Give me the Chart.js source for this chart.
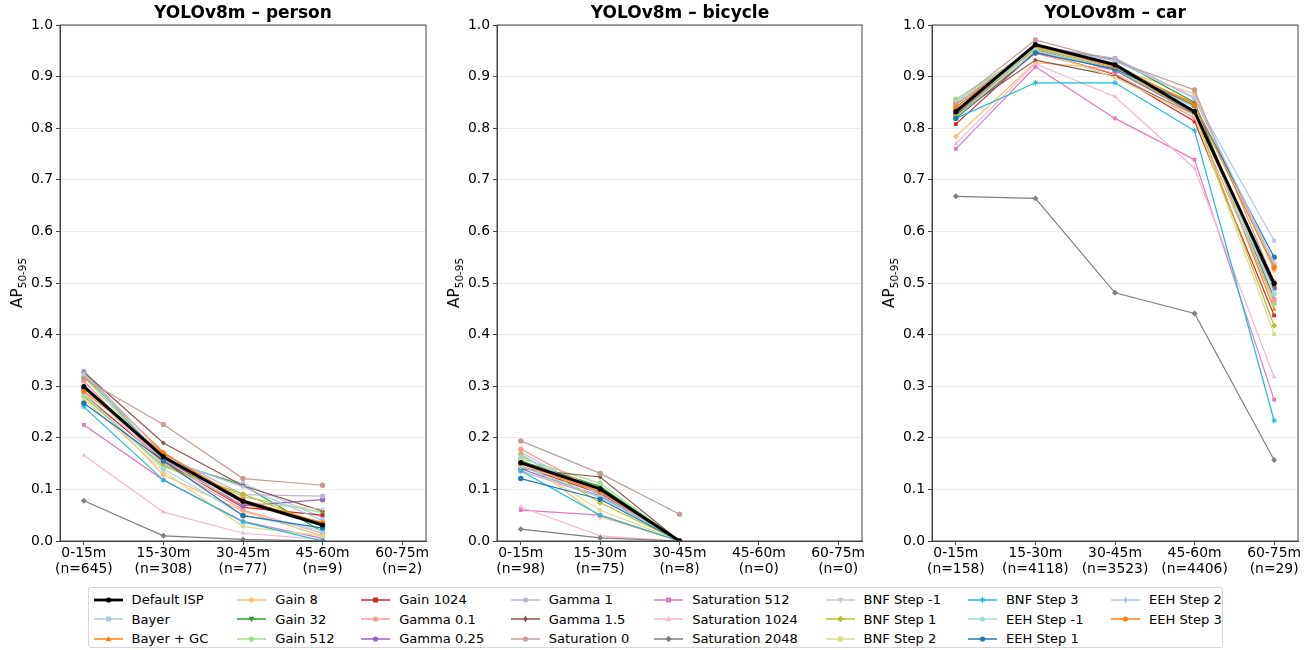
<!DOCTYPE html>
<html>
<head>
<meta charset="utf-8">
<script src="https://cdn.jsdelivr.net/npm/chart.js@4.4.1/dist/chart.umd.min.js"></script>
<style>
  body { margin: 0; background: #fff; font-family: "DejaVu Sans", sans-serif; color: #000; }
  #wrap { position: relative; width: 1310px; height: 650px; overflow: hidden; }
  .panel { position: absolute; top: 0; width: 436px; height: 590px; }
  .ptitle { position: absolute; top: 2px; width: 366px; text-align: center; font-weight: bold; font-size: 17px; white-space: nowrap; }
  .ylab { position: absolute; top: 283px; font-size: 15.3px; white-space: nowrap; transform: translate(-50%, -50%) rotate(-90deg); }
  .ylab sub { font-size: 10.5px; }
  #legend { position: absolute; left: 88px; top: 587px; width: 1135px; height: 61px; border: 1px solid #d6d6d6; border-radius: 3px; box-sizing: border-box; }
  .lcol { position: absolute; top: 2px; }
  .litem { height: 19.5px; display: flex; align-items: center; font-size: 13.1px; white-space: nowrap; }
  .litem svg { margin-right: 9px; }
</style>
</head>
<body>
<div id="wrap">
  <div id="legend"></div>
</div>
<script>
// distance bins + sample counts per class
const distanceBins = ["0-15m", "15-30m", "30-45m", "45-60m", "60-75m"];
const personCounts = [645, 308, 77, 9, 2];
const bicycleCounts = [98, 75, 8, 0, 0];
const carCounts = [158, 4118, 3523, 4406, 29];

const configNames = [
    "Default ISP", "Bayer", "Bayer + GC", "Gain 8", "Gain 32", "Gain 512", "Gain 1024",
    "Gamma 0.1", "Gamma 0.25", "Gamma 1", "Gamma 1.5", "Saturation 0", "Saturation 512",
    "Saturation 1024", "Saturation 2048", "BNF Step -1", "BNF Step 1", "BNF Step 2",
    "BNF Step 3", "EEH Step -1", "EEH Step 1", "EEH Step 2", "EEH Step 3"
];

// AP50-95 per config (rows follow configNames), null = no data
const personAP = [
    [0.299, 0.163, 0.077, 0.031, null],
    [0.330, 0.152, 0.112, 0.045, null],
    [0.320, 0.172, 0.072, 0.036, null],
    [0.290, 0.128, 0.058, 0.010, null],
    [0.325, 0.158, 0.108, 0.018, null],
    [0.318, 0.156, 0.086, 0.055, null],
    [0.284, 0.155, 0.065, 0.050, null],
    [0.310, 0.150, 0.060, 0.015, null],
    [0.296, 0.160, 0.068, 0.080, null],
    [0.328, 0.168, 0.090, 0.087, null],
    [0.327, 0.190, 0.107, 0.058, null],
    [0.315, 0.226, 0.121, 0.108, null],
    [0.225, 0.118, 0.038, 0.005, null],
    [0.166, 0.056, 0.015, 0.003, null],
    [0.078, 0.010, 0.003, 0.000, null],
    [0.300, 0.148, 0.075, 0.062, null],
    [0.280, 0.145, 0.091, 0.030, null],
    [0.275, 0.135, 0.028, 0.010, null],
    [0.260, 0.118, 0.037, 0.000, null],
    [0.285, 0.140, 0.050, 0.020, null],
    [0.267, 0.155, 0.049, 0.025, null],
    [0.325, 0.160, 0.105, 0.040, null],
    [0.290, 0.170, 0.080, 0.035, null]
];

const bicycleAP = [
    [0.152, 0.101, 0.000, null, null],
    [0.172, 0.088, 0.000, null, null],
    [0.150, 0.097, 0.000, null, null],
    [0.160, 0.047, 0.000, null, null],
    [0.155, 0.106, 0.000, null, null],
    [0.160, 0.112, 0.000, null, null],
    [0.145, 0.092, 0.000, null, null],
    [0.178, 0.095, 0.000, null, null],
    [0.140, 0.087, 0.000, null, null],
    [0.136, 0.085, 0.000, null, null],
    [0.140, 0.124, 0.000, null, null],
    [0.194, 0.131, 0.052, null, null],
    [0.060, 0.050, 0.000, null, null],
    [0.066, 0.010, 0.000, null, null],
    [0.023, 0.006, 0.000, null, null],
    [0.150, 0.095, 0.000, null, null],
    [0.168, 0.074, 0.000, null, null],
    [0.155, 0.060, 0.000, null, null],
    [0.136, 0.050, 0.000, null, null],
    [0.145, 0.085, 0.000, null, null],
    [0.121, 0.081, 0.000, null, null],
    [0.165, 0.090, 0.000, null, null],
    [0.150, 0.095, 0.000, null, null]
];

const carAP = [
    [0.832, 0.962, 0.923, 0.832, 0.499],
    [0.830, 0.955, 0.936, 0.858, 0.582],
    [0.840, 0.958, 0.918, 0.848, 0.449],
    [0.784, 0.927, 0.915, 0.867, 0.524],
    [0.846, 0.958, 0.934, 0.850, 0.470],
    [0.856, 0.955, 0.925, 0.842, 0.460],
    [0.808, 0.949, 0.904, 0.813, 0.437],
    [0.826, 0.945, 0.906, 0.820, 0.467],
    [0.828, 0.952, 0.912, 0.828, 0.490],
    [0.845, 0.960, 0.935, 0.858, 0.535],
    [0.826, 0.932, 0.901, 0.826, 0.494],
    [0.850, 0.971, 0.930, 0.874, 0.502],
    [0.760, 0.919, 0.819, 0.739, 0.274],
    [0.770, 0.925, 0.861, 0.722, 0.318],
    [0.668, 0.664, 0.481, 0.441, 0.157],
    [0.852, 0.955, 0.920, 0.835, 0.480],
    [0.823, 0.955, 0.915, 0.830, 0.417],
    [0.820, 0.952, 0.898, 0.825, 0.401],
    [0.819, 0.888, 0.888, 0.795, 0.233],
    [0.835, 0.950, 0.915, 0.840, 0.479],
    [0.819, 0.946, 0.915, 0.844, 0.550],
    [0.835, 0.960, 0.930, 0.860, 0.540],
    [0.840, 0.960, 0.920, 0.845, 0.530]
];

const yTicks = [0, 0.1, 0.2, 0.3, 0.4, 0.5, 0.6, 0.7, 0.8, 0.9, 1.0];

// styles (tab20)
const configColors = [
    "#000000", "#aec7e8", "#ff7f0e", "#ffbb78", "#2ca02c", "#98df8a", "#d62728",
    "#ff9896", "#9467bd", "#c5b0d5", "#8c564b", "#c49c94", "#e377c2", "#f7b6d2",
    "#7f7f7f", "#c7c7c7", "#bcbd22", "#dbdb8d", "#17becf", "#9edae5", "#1f77b4",
    "#aec7e8", "#ff7f0e"
];
const configMarkers = [
    "circle", "rect", "triangle", "rectRot", "triDown", "circle", "rect",
    "circle", "circle", "circle", "thinDiamond", "circle", "rect", "triangle",
    "rectRot", "triDown", "rectRot", "rect", "star", "circle", "circle",
    "thinDiamond", "circle"
];

const panelLefts = [0, 436, 872];
const axisWidths = [60, 61, 60];

// kleines Plugin für den Rahmen oben/rechts
const framePlugin = {
    id: "frame",
    afterDraw(chart) {
        const { ctx, chartArea: a } = chart;
        ctx.save();
        ctx.strokeStyle = "#444";
        ctx.lineWidth = 1;
        ctx.strokeRect(a.left, a.top, a.right - a.left, a.bottom - a.top);
        ctx.restore();
    }
};

function chartMarker(m) {
    if (m === "triDown") return { style: "triangle", rot: 180, scale: 1 };
    if (m === "thinDiamond") return { style: "rectRot", rot: 0, scale: 0.9 };
    if (m === "rectRot") return { style: "rectRot", rot: 0, scale: 1.1 };
    return { style: m, rot: 0, scale: 1 };
}

function buildPanel(idx, title, counts, apRows) {
    const wrap = document.getElementById("wrap");
    const panel = document.createElement("div");
    panel.className = "panel";
    panel.style.left = panelLefts[idx] + "px";
    const canvas = document.createElement("canvas");
    canvas.width = 436;
    canvas.height = 590;
    panel.appendChild(canvas);

    const t = document.createElement("div");
    t.className = "ptitle";
    t.style.left = axisWidths[idx] + "px";
    t.textContent = title;
    panel.appendChild(t);

    const yl = document.createElement("div");
    yl.className = "ylab";
    yl.style.left = (axisWidths[idx] - 42) + "px";
    yl.innerHTML = "AP<sub>50-95</sub>";
    panel.appendChild(yl);
    wrap.appendChild(panel);

    const n = configNames.length;
    const datasets = configNames.map((name, i) => {
        const mk = chartMarker(configMarkers[i]);
        const pts = [];
        apRows[i].forEach((v, j) => { if (v !== null) pts.push({ x: j, y: v }); });
        return {
            label: name,
            data: pts,
            borderColor: configColors[i],
            backgroundColor: configColors[i],
            borderWidth: i === 0 ? 3 : 1.2,
            pointRadius: (i === 0 ? 2.6 : 2.7) * mk.scale,
            pointStyle: mk.style,
            pointRotation: mk.rot,
            pointBorderWidth: mk.style === "star" ? 1 : 0,
            pointBorderColor: configColors[i],
            order: i === 0 ? 0 : n - i,
            tension: 0
        };
    });

    new Chart(canvas, {
        type: "line",
        data: { datasets },
        options: {
            responsive: false,
            animation: false,
            layout: { padding: { top: 25, right: 10, left: 0, bottom: 0 } },
            plugins: { legend: { display: false }, tooltip: { enabled: false } },
            scales: {
                x: {
                    type: "linear",
                    min: -0.3,
                    max: 4.3,
                    afterBuildTicks: s => { s.ticks = distanceBins.map((_, j) => ({ value: j })); },
                    afterFit: s => { s.height = 49; },
                    grid: { drawOnChartArea: false, drawTicks: true, tickLength: 4, tickColor: "#444" },
                    border: { display: true, color: "#444" },
                    ticks: {
                        maxRotation: 0,
                        autoSkip: false,
                        padding: 1,
                        color: "#000",
                        font: { family: "DejaVu Sans", size: 13.9, lineHeight: 1.12 },
                        callback: v => [distanceBins[v], "(n=" + counts[v] + ")"]
                    }
                },
                y: {
                    min: 0,
                    max: 1,
                    afterBuildTicks: s => { s.ticks = yTicks.map(v => ({ value: v })); },
                    afterFit: s => { s.width = axisWidths[idx]; },
                    grid: { color: "#ebebeb", lineWidth: 1, tickLength: 4, tickColor: "#444" },
                    border: { display: true, color: "#444" },
                    ticks: {
                        padding: 3,
                        color: "#000",
                        font: { family: "DejaVu Sans", size: 13.9 },
                        callback: v => v.toFixed(1)
                    }
                }
            }
        },
        plugins: [framePlugin]
    });
}

buildPanel(0, "YOLOv8m \u2013 person", personCounts, personAP);
buildPanel(1, "YOLOv8m \u2013 bicycle", bicycleCounts, bicycleAP);
buildPanel(2, "YOLOv8m \u2013 car", carCounts, carAP);

// legend (matplotlib-artig, 8 Spalten, spaltenweise gefüllt)
function markerSvg(m, color) {
    const cx = 14.5, cy = 7;
    if (m === "circle") return `<circle cx="${cx}" cy="${cy}" r="2.6" fill="${color}"/>`;
    if (m === "rect") return `<rect x="${cx - 2.5}" y="${cy - 2.5}" width="5" height="5" fill="${color}"/>`;
    if (m === "triangle") return `<polygon points="${cx},${cy - 3.2} ${cx - 3},${cy + 2.2} ${cx + 3},${cy + 2.2}" fill="${color}"/>`;
    if (m === "triDown") return `<polygon points="${cx},${cy + 3.2} ${cx - 3},${cy - 2.2} ${cx + 3},${cy - 2.2}" fill="${color}"/>`;
    if (m === "rectRot") return `<polygon points="${cx},${cy - 3.2} ${cx + 3.2},${cy} ${cx},${cy + 3.2} ${cx - 3.2},${cy}" fill="${color}"/>`;
    if (m === "thinDiamond") return `<polygon points="${cx},${cy - 3.5} ${cx + 2},${cy} ${cx},${cy + 3.5} ${cx - 2},${cy}" fill="${color}"/>`;
    if (m === "star") return `<path d="M${cx - 3} ${cy}H${cx + 3}M${cx} ${cy - 3}V${cy + 3}M${cx - 2.2} ${cy - 2.2}L${cx + 2.2} ${cy + 2.2}M${cx - 2.2} ${cy + 2.2}L${cx + 2.2} ${cy - 2.2}" stroke="${color}" stroke-width="1"/>`;
    return "";
}

const legendColX = [4.6, 148.3, 272.2, 421.7, 565.2, 736.5, 878.9, 1022];
const legend = document.getElementById("legend");
for (let c = 0; c < 8; c++) {
    const col = document.createElement("div");
    col.className = "lcol";
    col.style.left = legendColX[c] + "px";
    for (let r = 0; r < 3; r++) {
        const i = c * 3 + r;
        if (i >= configNames.length) break;
        const item = document.createElement("div");
        item.className = "litem";
        const lw = i === 0 ? 2.8 : 1.5;
        item.innerHTML = `<svg width="29" height="14"><line x1="0" y1="7" x2="29" y2="7" stroke="${configColors[i]}" stroke-width="${lw}"/>${markerSvg(configMarkers[i], configColors[i])}</svg><span>${configNames[i]}</span>`;
        col.appendChild(item);
    }
    legend.appendChild(col);
}
</script>
</body>
</html>
